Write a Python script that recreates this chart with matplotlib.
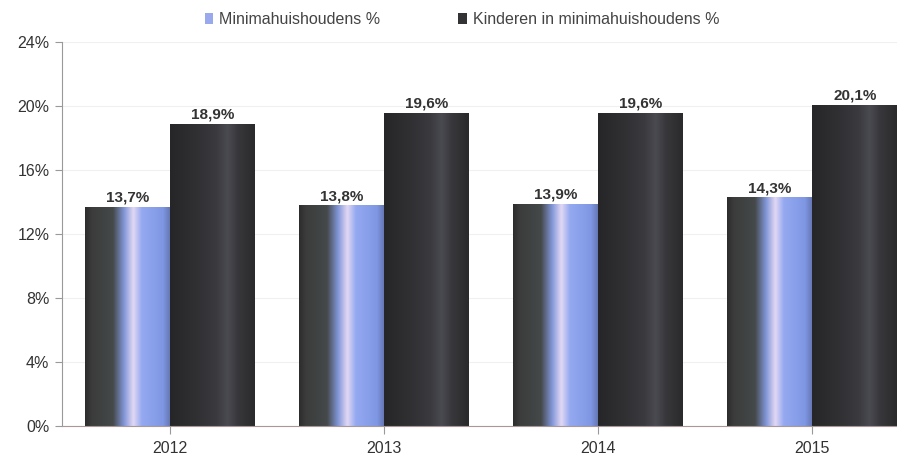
import numpy as np
import matplotlib.pyplot as plt
from matplotlib.colors import LinearSegmentedColormap
from matplotlib.patches import Patch

plt.rcParams['font.family'] = ['Liberation Sans', 'DejaVu Sans']

years = ['2012', '2013', '2014', '2015']
minima = [13.7, 13.8, 13.9, 14.3]          # Minimahuishoudens %
kinderen = [18.9, 19.6, 19.6, 20.1]        # Kinderen in minimahuishoudens %
yticks = [0, 4, 8, 12, 16, 20, 24]

# cylinder-like gradients across each bar
cm1 = LinearSegmentedColormap.from_list('s1', [
    (0.0, '#2c2c2c'), (0.08, '#3b3c3b'), (0.33, '#45494a'),
    (0.46, '#8196d8'), (0.57, '#e2d8f4'), (0.67, '#94a9f0'),
    (0.92, '#7f97e4'), (1.0, '#6678b4')])
cm2 = LinearSegmentedColormap.from_list('s2', [
    (0.0, '#262628'), (0.3, '#303033'), (0.55, '#3a3a3f'),
    (0.68, '#4a4a51'), (0.8, '#38383c'), (1.0, '#2a2a2c')])

fig = plt.figure(figsize=(8.97, 4.58), dpi=100)
ax = fig.add_axes([0.069, 0.07, 0.957, 0.838])

x = np.arange(len(years))
w = 0.397
b1 = ax.bar(x - w / 2, minima, w, color='none', edgecolor='none')
b2 = ax.bar(x + w / 2, kinderen, w, color='none', edgecolor='none')

grad = np.linspace(0, 1, 256).reshape(1, -1)
for bars, cm in ((b1, cm1), (b2, cm2)):
    for r in bars:
        x0, y0 = r.get_x(), r.get_y()
        im = ax.imshow(grad, cmap=cm, aspect='auto', interpolation='bilinear',
                       extent=(x0, x0 + r.get_width(), y0, y0 + r.get_height()),
                       zorder=2)
        im.set_clip_path(r)

for bars, vals in ((b1, minima), (b2, kinderen)):
    for r, v in zip(bars, vals):
        ax.text(r.get_x() + r.get_width() / 2, v + 0.12,
                f'{v:.1f}%'.replace('.', ','), ha='center', va='bottom',
                fontsize=11, fontweight='bold', color='#333333', zorder=3)

ax.set_xlim(-0.505, len(years) - 0.495)
ax.set_ylim(0, 24)
ax.set_yticks(yticks)
ax.set_yticklabels([f'{t}%' for t in yticks])
ax.set_xticks(x)
ax.set_xticklabels(years)
ax.grid(axis='y', color='#f0f0f0', linewidth=0.8)
ax.set_axisbelow(True)

for s in ('top', 'right'):
    ax.spines[s].set_visible(False)
ax.spines['left'].set_color('#999999')
ax.spines['bottom'].set_color('#a89898')
ax.tick_params(axis='y', length=5, color='#999999', labelsize=11.5, labelcolor='#333333', pad=4)
ax.tick_params(axis='x', length=6, color='#999999', labelsize=11.5, labelcolor='#333333', pad=5)

handles = [Patch(facecolor='#9aa8ee', edgecolor='none'),
           Patch(facecolor='#333336', edgecolor='none')]
fig.legend(handles, ['Minimahuishoudens %', 'Kinderen in minimahuishoudens %'],
           loc='center', bbox_to_anchor=(0.515, 0.958), ncol=2, frameon=False,
           fontsize=11.5, handlelength=0.55, handleheight=0.7, handletextpad=0.35,
           columnspacing=4.9, labelcolor='#444444')

fig.savefig('out.png', dpi=100)
